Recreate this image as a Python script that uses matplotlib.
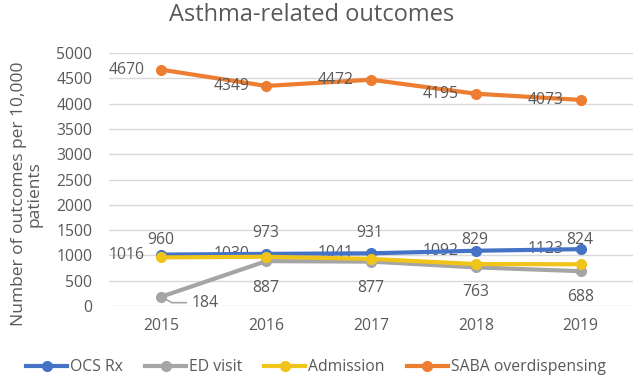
import matplotlib
matplotlib.use("Agg")
import matplotlib.pyplot as plt
import numpy as np

plt.rcParams['font.family'] = ['Open Sans', 'DejaVu Sans']

years = ['2015', '2016', '2017', '2018', '2019']
ocs_rx = [1016, 1030, 1041, 1092, 1123]
ed_visit = [184, 887, 877, 763, 688]
admission = [960, 973, 931, 829, 824]
saba = [4670, 4349, 4472, 4195, 4073]

TXT = '#595959'
C_OCS = '#4472C4'
C_ED = '#A5A5A5'
C_ADM = '#F0C419'
C_SABA = '#ED7D31'

fig = plt.figure(figsize=(6.33, 3.78), dpi=100)
ax = fig.add_axes([109/633, 1-306/378, (633-109)/633, 253/378])

x = np.arange(len(years))
lw = 3.0
ms = 7.0
ax.plot(x, saba, color=C_SABA, lw=lw, marker='o', ms=ms, label='SABA overdispensing', zorder=3)
ax.plot(x, ed_visit, color=C_ED, lw=lw, marker='o', ms=ms, label='ED visit', zorder=3)
ax.plot(x, ocs_rx, color=C_OCS, lw=lw, marker='o', ms=ms, label='OCS Rx', zorder=4)
ax.plot(x, admission, color=C_ADM, lw=lw, marker='o', ms=ms, label='Admission', zorder=5)

ax.set_xlim(-0.5, len(years) - 0.5)
ax.set_ylim(0, 5000)
ax.set_yticks(np.arange(0, 5001, 500))
ax.set_xticks(x)
ax.set_xticklabels(years)
ax.tick_params(axis='both', length=0, labelsize=11.3, labelcolor=TXT)
ax.tick_params(axis='y', pad=12)
ax.tick_params(axis='x', pad=9)
ax.grid(axis='y', color='#D9D9D9', lw=1)
ax.set_axisbelow(True)
for s in ax.spines.values():
    s.set_visible(False)

fs = 11.3
px = 0.72
adm_dy = [17, 24, 26, 24, 24]      # label offsets above points (pixels)
ed_dy = [0, 27, 26, 25, 25.5]      # label offsets below points (pixels)
for i in range(len(years)):
    ax.annotate(str(saba[i]), (x[i], saba[i]), xytext=(-17*px, 0), textcoords='offset points',
                ha='right', va='center', fontsize=fs, color=TXT)
    ax.annotate(str(ocs_rx[i]), (x[i], ocs_rx[i]), xytext=(-17*px, 0), textcoords='offset points',
                ha='right', va='center', fontsize=fs, color=TXT)
    ax.annotate(str(admission[i]), (x[i], admission[i]), xytext=(-1*px, adm_dy[i]*px), textcoords='offset points',
                ha='center', va='center', fontsize=fs, color=TXT)
    if i == 0:
        ax.annotate(str(ed_visit[i]), (x[i], ed_visit[i]), xytext=(44*px, -6*px), textcoords='offset points',
                    ha='center', va='center', fontsize=fs, color=TXT,
                    arrowprops=dict(arrowstyle='-', color=C_ED, lw=1.2, shrinkA=2, shrinkB=3,
                                    relpos=(0, 0.5),
                                    connectionstyle='angle,angleA=0,angleB=-30,rad=0'))
    else:
        ax.annotate(str(ed_visit[i]), (x[i], ed_visit[i]), xytext=(0, -ed_dy[i]*px), textcoords='offset points',
                    ha='center', va='center', fontsize=fs, color=TXT)

fig.text(27/633, 1-194/378, 'Number of outcomes per 10,000\npatients', rotation=90,
         ha='center', va='center', fontsize=12.5, color=TXT, linespacing=0.95, multialignment='center')

fig.text(312/633, 1-15/378, 'Asthma-related outcomes', ha='center', va='center', fontsize=17, color=TXT)

handles, labels = ax.get_legend_handles_labels()
order = [2, 1, 3, 0]
leg = fig.legend([handles[k] for k in order], [labels[k] for k in order], loc='center',
                 bbox_to_anchor=(316/633, 1-367/378), ncol=4, frameon=False, fontsize=11.3,
                 handlelength=2.6, columnspacing=1.4, handletextpad=0.2, labelcolor=TXT)

fig.savefig('out.png', dpi=100)
